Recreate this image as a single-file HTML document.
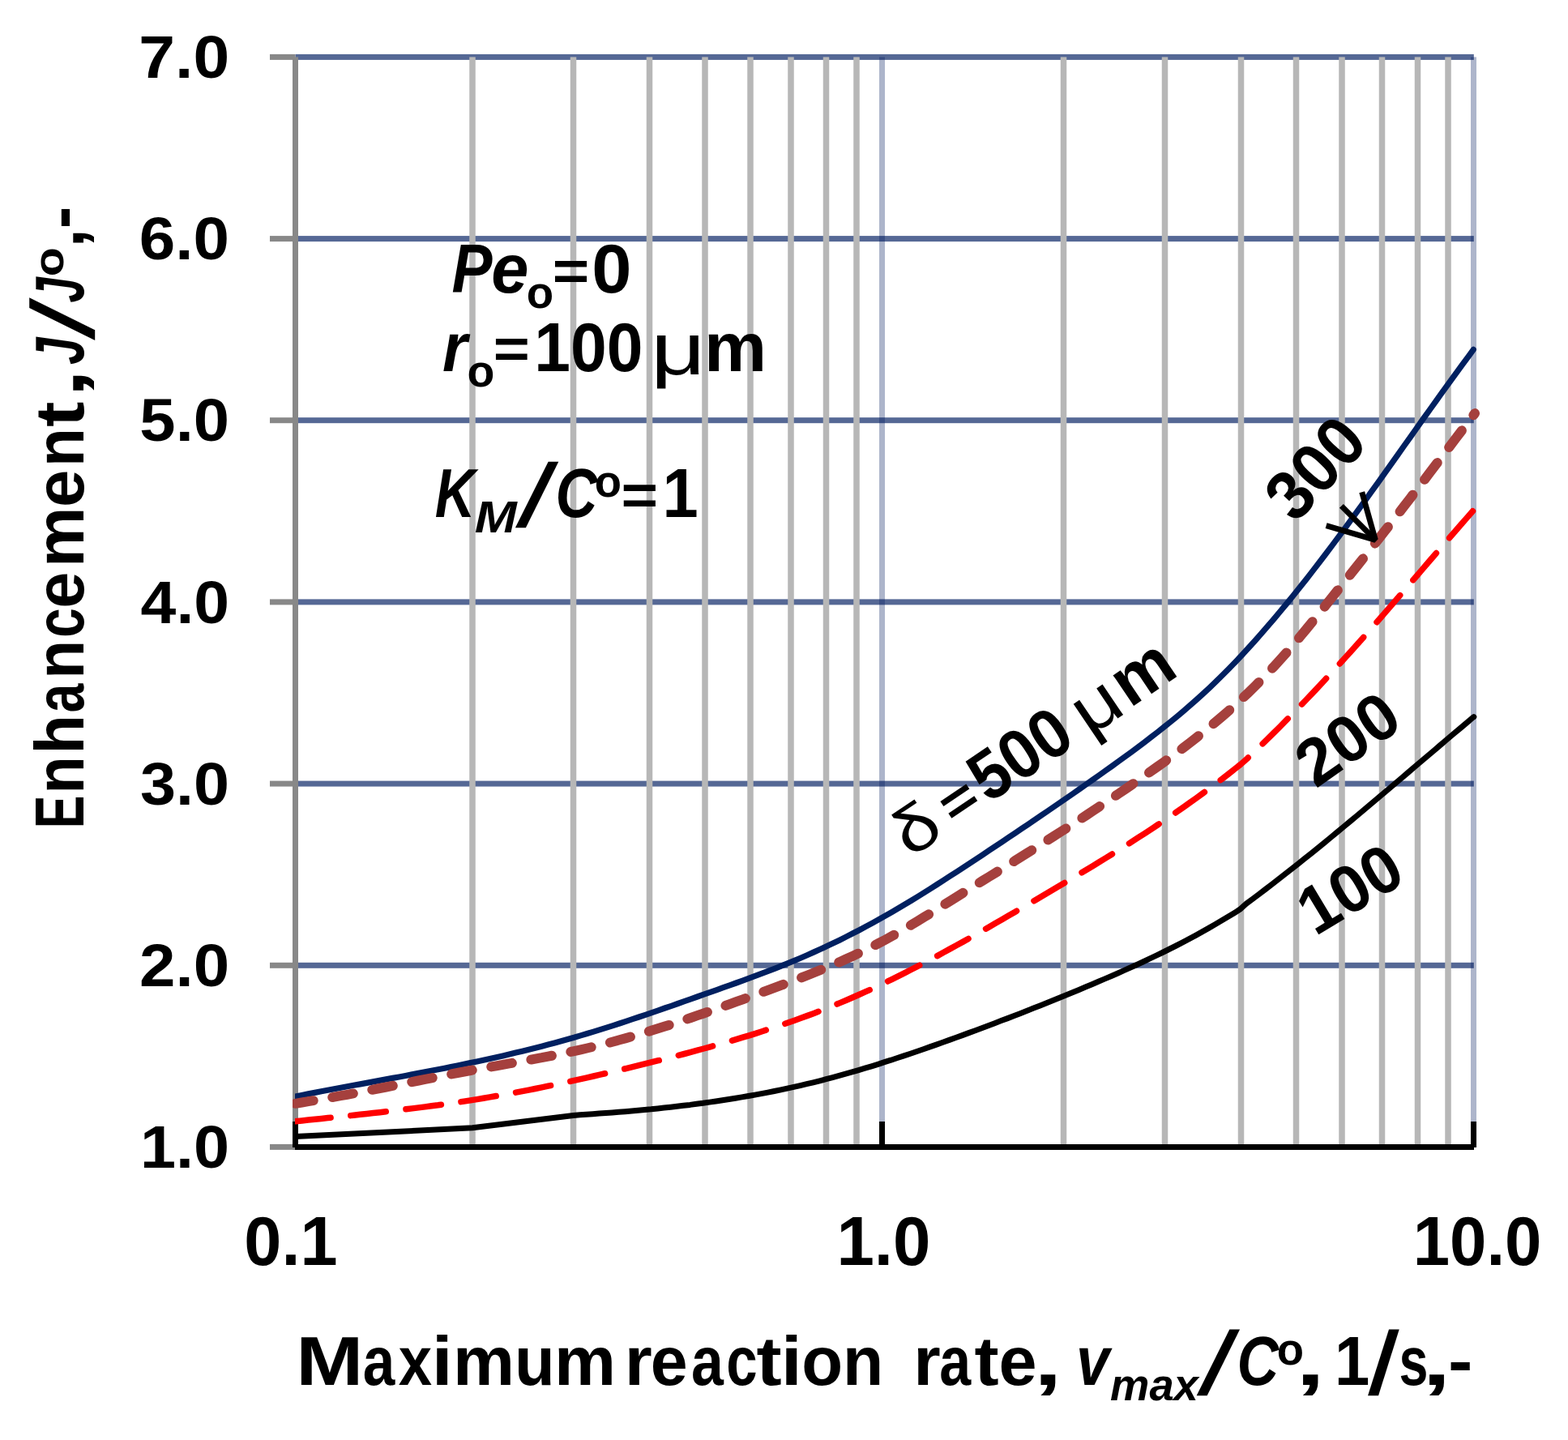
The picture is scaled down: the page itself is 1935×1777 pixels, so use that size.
<!DOCTYPE html><html><head><meta charset="utf-8"><style>html,body{margin:0;padding:0;background:#fff;}svg{display:block;}</style></head><body>
<svg xmlns="http://www.w3.org/2000/svg" width="1935" height="1777" viewBox="0 0 1935 1777">
<rect width="1935" height="1777" fill="#fff"/>
<defs><clipPath id="c1"><rect x="364" y="0" width="1600" height="1777"/></clipPath><clipPath id="c2"><rect x="361" y="0" width="1600" height="1777"/></clipPath></defs>
<rect x="364.5" y="1187.8" width="1454.3" height="7" fill="#556895"/>
<rect x="364.5" y="963.6" width="1454.3" height="7" fill="#556895"/>
<rect x="364.5" y="739.4" width="1454.3" height="7" fill="#556895"/>
<rect x="364.5" y="515.2" width="1454.3" height="7" fill="#556895"/>
<rect x="364.5" y="291.1" width="1454.3" height="7" fill="#556895"/>
<rect x="364.5" y="66.9" width="1454.3" height="7" fill="#556895"/>
<rect x="579.25" y="70.4" width="7.5" height="1341.6" fill="#b7b7b7"/>
<rect x="703.75" y="70.4" width="7.5" height="1341.6" fill="#b7b7b7"/>
<rect x="797.75" y="70.4" width="7.5" height="1341.6" fill="#b7b7b7"/>
<rect x="866.25" y="70.4" width="7.5" height="1341.6" fill="#b7b7b7"/>
<rect x="922.25" y="70.4" width="7.5" height="1341.6" fill="#b7b7b7"/>
<rect x="972.25" y="70.4" width="7.5" height="1341.6" fill="#b7b7b7"/>
<rect x="1015.75" y="70.4" width="7.5" height="1341.6" fill="#b7b7b7"/>
<rect x="1053.25" y="70.4" width="7.5" height="1341.6" fill="#b7b7b7"/>
<rect x="1308.75" y="70.4" width="7.5" height="1341.6" fill="#b7b7b7"/>
<rect x="1433.75" y="70.4" width="7.5" height="1341.6" fill="#b7b7b7"/>
<rect x="1527.75" y="70.4" width="7.5" height="1341.6" fill="#b7b7b7"/>
<rect x="1595.75" y="70.4" width="7.5" height="1341.6" fill="#b7b7b7"/>
<rect x="1652.25" y="70.4" width="7.5" height="1341.6" fill="#b7b7b7"/>
<rect x="1701.75" y="70.4" width="7.5" height="1341.6" fill="#b7b7b7"/>
<rect x="1745.75" y="70.4" width="7.5" height="1341.6" fill="#b7b7b7"/>
<rect x="1783.25" y="70.4" width="7.5" height="1341.6" fill="#b7b7b7"/>
<rect x="1085.00" y="70.4" width="7" height="1341.6" fill="#00185c" fill-opacity="0.32"/>
<rect x="1815.00" y="70.4" width="7" height="1341.6" fill="#00185c" fill-opacity="0.32"/>
<rect x="361" y="70.4" width="7" height="1348.6" fill="#888888"/>
<rect x="333" y="1411.9" width="31.5" height="7" fill="#888888"/>
<rect x="333" y="1187.8" width="31.5" height="7" fill="#888888"/>
<rect x="333" y="963.6" width="31.5" height="7" fill="#888888"/>
<rect x="333" y="739.4" width="31.5" height="7" fill="#888888"/>
<rect x="333" y="515.2" width="31.5" height="7" fill="#888888"/>
<rect x="333" y="291.1" width="31.5" height="7" fill="#888888"/>
<rect x="333" y="66.9" width="31.5" height="7" fill="#888888"/>
<rect x="364" y="1412" width="1455" height="7" fill="#000"/>
<rect x="361.0" y="1384" width="7" height="32" fill="#000"/>
<rect x="1085.0" y="1384" width="7" height="32" fill="#000"/>
<rect x="1815.0" y="1384" width="7" height="32" fill="#000"/>
<polyline clip-path="url(#c1)" points="364.5,1353.0 372.5,1351.5 380.5,1349.9 388.5,1348.4 396.5,1346.8 404.5,1345.3 412.5,1343.8 420.5,1342.3 428.5,1340.8 436.5,1339.3 444.5,1337.9 452.5,1336.4 460.5,1334.9 468.5,1333.4 476.5,1331.9 484.5,1330.4 492.5,1329.0 500.5,1327.5 508.5,1325.9 516.5,1324.4 524.5,1322.9 532.5,1321.3 540.5,1319.8 548.5,1318.2 556.5,1316.6 564.5,1315.0 572.5,1313.3 580.5,1311.6 588.5,1309.9 596.5,1308.2 604.5,1306.5 612.5,1304.7 620.5,1302.9 628.5,1301.0 636.5,1299.1 644.5,1297.2 652.5,1295.2 660.5,1293.2 668.5,1291.2 676.5,1289.1 684.5,1287.0 692.5,1284.8 700.5,1282.5 708.5,1280.3 716.5,1277.9 724.5,1275.5 732.5,1273.1 740.5,1270.6 748.5,1268.1 756.5,1265.6 764.5,1263.0 772.5,1260.3 780.5,1257.7 788.5,1255.0 796.5,1252.3 804.5,1249.6 812.5,1246.8 820.5,1244.0 828.5,1241.3 836.5,1238.5 844.5,1235.7 852.5,1232.8 860.5,1230.0 868.5,1227.2 876.5,1224.4 884.5,1221.6 892.5,1218.7 900.5,1215.9 908.5,1213.0 916.5,1210.1 924.5,1207.2 932.5,1204.2 940.5,1201.2 948.5,1198.2 956.5,1195.1 964.5,1191.9 972.5,1188.7 980.5,1185.4 988.5,1182.0 996.5,1178.5 1004.5,1174.9 1012.5,1171.3 1020.5,1167.6 1028.5,1163.8 1036.5,1159.9 1044.5,1155.9 1052.5,1151.8 1060.5,1147.7 1068.5,1143.4 1076.5,1139.1 1084.5,1134.7 1092.5,1130.2 1100.5,1125.6 1108.5,1120.9 1116.5,1116.2 1124.5,1111.4 1132.5,1106.5 1140.5,1101.5 1148.5,1096.5 1156.5,1091.4 1164.5,1086.3 1172.5,1081.1 1180.5,1075.9 1188.5,1070.7 1196.5,1065.4 1204.5,1060.2 1212.5,1054.9 1220.5,1049.6 1228.5,1044.2 1236.5,1038.9 1244.5,1033.6 1252.5,1028.2 1260.5,1022.8 1268.5,1017.4 1276.5,1012.0 1284.5,1006.6 1292.5,1001.1 1300.5,995.6 1308.5,990.1 1316.5,984.6 1324.5,979.1 1332.5,973.5 1340.5,967.9 1348.5,962.2 1356.5,956.6 1364.5,950.9 1372.5,945.2 1380.5,939.4 1388.5,933.6 1396.5,927.8 1404.5,921.8 1412.5,915.8 1420.5,909.7 1428.5,903.5 1436.5,897.2 1444.5,890.8 1452.5,884.2 1460.5,877.5 1468.5,870.6 1476.5,863.5 1484.5,856.3 1492.5,848.8 1500.5,841.2 1508.5,833.3 1516.5,825.2 1524.5,817.0 1532.5,808.5 1540.5,799.8 1548.5,791.0 1556.5,781.9 1564.5,772.7 1572.5,763.4 1580.5,753.8 1588.5,744.1 1596.5,734.3 1604.5,724.3 1612.5,714.2 1620.5,703.9 1628.5,693.5 1636.5,683.0 1644.5,672.4 1652.5,661.7 1660.5,650.8 1668.5,639.9 1676.5,628.9 1684.5,617.9 1692.5,606.7 1700.5,595.6 1708.5,584.3 1716.5,573.1 1724.5,561.8 1732.5,550.5 1740.5,539.3 1748.5,528.0 1756.5,516.7 1764.5,505.5 1772.5,494.3 1780.5,483.2 1788.5,472.1 1796.5,461.1 1804.5,450.1 1812.5,439.3 1818.3,431.4" fill="none" stroke="#002060" stroke-width="7.2" stroke-linejoin="round" stroke-linecap="round"/>
<polyline clip-path="url(#c2)" points="364.5,1361.8 372.5,1360.5 380.5,1359.2 388.5,1357.9 396.5,1356.5 404.5,1355.1 412.5,1353.7 420.5,1352.2 428.5,1350.8 436.5,1349.3 444.5,1347.7 452.5,1346.2 460.5,1344.6 468.5,1343.0 476.5,1341.5 484.5,1339.9 492.5,1338.3 500.5,1336.7 508.5,1335.1 516.5,1333.5 524.5,1331.9 532.5,1330.3 540.5,1328.7 548.5,1327.1 556.5,1325.6 564.5,1324.0 572.5,1322.5 580.5,1321.0 588.5,1319.6 596.5,1318.1 604.5,1316.7 612.5,1315.3 620.5,1313.8 628.5,1312.4 636.5,1311.0 644.5,1309.6 652.5,1308.1 660.5,1306.6 668.5,1305.2 676.5,1303.6 684.5,1302.1 692.5,1300.5 700.5,1298.8 708.5,1297.1 716.5,1295.3 724.5,1293.5 732.5,1291.6 740.5,1289.6 748.5,1287.6 756.5,1285.5 764.5,1283.3 772.5,1281.1 780.5,1278.8 788.5,1276.5 796.5,1274.1 804.5,1271.6 812.5,1269.1 820.5,1266.6 828.5,1264.0 836.5,1261.3 844.5,1258.7 852.5,1256.0 860.5,1253.2 868.5,1250.5 876.5,1247.7 884.5,1244.8 892.5,1242.0 900.5,1239.1 908.5,1236.2 916.5,1233.3 924.5,1230.4 932.5,1227.5 940.5,1224.5 948.5,1221.6 956.5,1218.7 964.5,1215.7 972.5,1212.7 980.5,1209.6 988.5,1206.6 996.5,1203.5 1004.5,1200.3 1012.5,1197.0 1020.5,1193.7 1028.5,1190.4 1036.5,1186.9 1044.5,1183.3 1052.5,1179.7 1060.5,1175.9 1068.5,1172.1 1076.5,1168.1 1084.5,1163.9 1092.5,1159.7 1100.5,1155.3 1108.5,1150.8 1116.5,1146.2 1124.5,1141.4 1132.5,1136.6 1140.5,1131.7 1148.5,1126.8 1156.5,1121.8 1164.5,1116.8 1172.5,1111.8 1180.5,1106.8 1188.5,1101.8 1196.5,1096.8 1204.5,1091.9 1212.5,1086.9 1220.5,1082.0 1228.5,1077.1 1236.5,1072.1 1244.5,1067.1 1252.5,1062.2 1260.5,1057.2 1268.5,1052.2 1276.5,1047.1 1284.5,1042.1 1292.5,1037.0 1300.5,1031.9 1308.5,1026.8 1316.5,1021.7 1324.5,1016.5 1332.5,1011.3 1340.5,1006.1 1348.5,1000.8 1356.5,995.5 1364.5,990.2 1372.5,984.8 1380.5,979.4 1388.5,974.0 1396.5,968.5 1404.5,962.9 1412.5,957.4 1420.5,951.7 1428.5,946.0 1436.5,940.3 1444.5,934.5 1452.5,928.6 1460.5,922.6 1468.5,916.5 1476.5,910.2 1484.5,903.9 1492.5,897.4 1500.5,890.7 1508.5,883.9 1516.5,876.9 1524.5,869.7 1532.5,862.3 1540.5,854.8 1548.5,847.0 1556.5,838.9 1564.5,830.6 1572.5,822.1 1580.5,813.3 1588.5,804.3 1596.5,795.0 1604.5,785.5 1612.5,775.9 1620.5,766.1 1628.5,756.2 1636.5,746.3 1644.5,736.3 1652.5,726.3 1660.5,716.3 1668.5,706.3 1676.5,696.3 1684.5,686.2 1692.5,676.1 1700.5,666.0 1708.5,655.8 1716.5,645.6 1724.5,635.3 1732.5,624.9 1740.5,614.6 1748.5,604.1 1756.5,593.7 1764.5,583.2 1772.5,572.7 1780.5,562.1 1788.5,551.6 1796.5,541.0 1804.5,530.5 1812.5,520.0 1820.0,510.1" fill="none" stroke="#a5403d" stroke-width="12" stroke-linejoin="round" stroke-linecap="round" stroke-dasharray="26 23.9" stroke-dashoffset="3.5"/>
<polyline clip-path="url(#c1)" points="364.5,1383.8 372.5,1383.0 380.5,1382.1 388.5,1381.3 396.5,1380.4 404.5,1379.6 412.5,1378.8 420.5,1377.9 428.5,1377.1 436.5,1376.2 444.5,1375.3 452.5,1374.5 460.5,1373.6 468.5,1372.7 476.5,1371.8 484.5,1370.8 492.5,1369.9 500.5,1368.9 508.5,1367.9 516.5,1366.9 524.5,1365.9 532.5,1364.8 540.5,1363.8 548.5,1362.6 556.5,1361.5 564.5,1360.3 572.5,1359.1 580.5,1357.9 588.5,1356.6 596.5,1355.3 604.5,1353.9 612.5,1352.5 620.5,1351.1 628.5,1349.6 636.5,1348.1 644.5,1346.6 652.5,1345.1 660.5,1343.5 668.5,1341.9 676.5,1340.2 684.5,1338.6 692.5,1336.9 700.5,1335.1 708.5,1333.4 716.5,1331.6 724.5,1329.8 732.5,1328.0 740.5,1326.2 748.5,1324.3 756.5,1322.4 764.5,1320.5 772.5,1318.6 780.5,1316.7 788.5,1314.7 796.5,1312.7 804.5,1310.7 812.5,1308.7 820.5,1306.7 828.5,1304.6 836.5,1302.6 844.5,1300.5 852.5,1298.4 860.5,1296.2 868.5,1294.0 876.5,1291.8 884.5,1289.6 892.5,1287.3 900.5,1285.0 908.5,1282.6 916.5,1280.2 924.5,1277.8 932.5,1275.3 940.5,1272.7 948.5,1270.1 956.5,1267.5 964.5,1264.8 972.5,1262.0 980.5,1259.2 988.5,1256.3 996.5,1253.4 1004.5,1250.4 1012.5,1247.3 1020.5,1244.1 1028.5,1240.9 1036.5,1237.6 1044.5,1234.3 1052.5,1230.8 1060.5,1227.3 1068.5,1223.7 1076.5,1220.0 1084.5,1216.3 1092.5,1212.5 1100.5,1208.6 1108.5,1204.6 1116.5,1200.6 1124.5,1196.5 1132.5,1192.4 1140.5,1188.2 1148.5,1183.9 1156.5,1179.7 1164.5,1175.3 1172.5,1170.9 1180.5,1166.5 1188.5,1162.1 1196.5,1157.6 1204.5,1153.1 1212.5,1148.5 1220.5,1143.9 1228.5,1139.3 1236.5,1134.7 1244.5,1130.1 1252.5,1125.4 1260.5,1120.8 1268.5,1116.1 1276.5,1111.4 1284.5,1106.7 1292.5,1102.0 1300.5,1097.3 1308.5,1092.6 1316.5,1087.9 1324.5,1083.1 1332.5,1078.3 1340.5,1073.5 1348.5,1068.7 1356.5,1063.8 1364.5,1058.9 1372.5,1054.0 1380.5,1049.0 1388.5,1044.0 1396.5,1038.9 1404.5,1033.7 1412.5,1028.6 1420.5,1023.3 1428.5,1018.0 1436.5,1012.6 1444.5,1007.2 1452.5,1001.7 1460.5,996.1 1468.5,990.4 1476.5,984.7 1484.5,978.9 1492.5,973.0 1500.5,967.0 1508.5,960.9 1516.5,954.7 1524.5,948.4 1531.0,943.2 1539.0,936.2 1547.0,928.6 1555.0,920.9 1563.0,913.1 1571.0,905.3 1579.0,897.3 1587.0,889.2 1595.0,881.1 1603.0,872.8 1611.0,864.5 1619.0,856.1 1627.0,847.6 1635.0,839.0 1643.0,830.3 1651.0,821.6 1659.0,812.8 1667.0,803.9 1675.0,795.0 1683.0,786.0 1691.0,776.9 1699.0,767.8 1707.0,758.6 1715.0,749.4 1723.0,740.1 1731.0,730.8 1739.0,721.5 1747.0,712.2 1755.0,702.9 1763.0,693.5 1771.0,684.2 1779.0,674.9 1787.0,665.7 1795.0,656.5 1803.0,647.3 1811.0,638.1 1818.0,630.2" fill="none" stroke="#ff0000" stroke-width="7.5" stroke-linejoin="round" stroke-linecap="round" stroke-dasharray="43.8 24.83"/>
<polyline clip-path="url(#c1)" points="364.5,1402.6 583.0,1391.8 707.5,1376.5 715.5,1375.7 723.5,1375.2 731.5,1374.7 739.5,1374.1 747.5,1373.6 755.5,1373.0 763.5,1372.3 771.5,1371.7 779.5,1371.0 787.5,1370.3 795.5,1369.5 803.5,1368.8 811.5,1367.9 819.5,1367.1 827.5,1366.2 835.5,1365.3 843.5,1364.3 851.5,1363.4 859.5,1362.3 867.5,1361.3 875.5,1360.1 883.5,1359.0 891.5,1357.8 899.5,1356.5 907.5,1355.2 915.5,1353.9 923.5,1352.5 931.5,1351.1 939.5,1349.6 947.5,1348.1 955.5,1346.5 963.5,1344.8 971.5,1343.1 979.5,1341.4 987.5,1339.6 995.5,1337.7 1003.5,1335.8 1011.5,1333.8 1019.5,1331.7 1027.5,1329.6 1035.5,1327.4 1043.5,1325.2 1051.5,1322.9 1059.5,1320.6 1067.5,1318.2 1075.5,1315.8 1083.5,1313.3 1091.5,1310.7 1099.5,1308.2 1107.5,1305.5 1115.5,1302.9 1123.5,1300.2 1131.5,1297.5 1139.5,1294.7 1147.5,1291.9 1155.5,1289.1 1163.5,1286.3 1171.5,1283.4 1179.5,1280.5 1187.5,1277.6 1195.5,1274.6 1203.5,1271.7 1211.5,1268.7 1219.5,1265.7 1227.5,1262.7 1235.5,1259.6 1243.5,1256.6 1251.5,1253.5 1259.5,1250.4 1267.5,1247.2 1275.5,1244.1 1283.5,1240.9 1291.5,1237.7 1299.5,1234.5 1307.5,1231.2 1315.5,1228.0 1323.5,1224.7 1331.5,1221.4 1339.5,1218.1 1347.5,1214.7 1355.5,1211.3 1363.5,1207.9 1371.5,1204.5 1379.5,1201.0 1387.5,1197.4 1395.5,1193.8 1403.5,1190.2 1411.5,1186.5 1419.5,1182.7 1427.5,1178.9 1435.5,1175.0 1443.5,1171.0 1451.5,1167.0 1459.5,1162.8 1467.5,1158.6 1475.5,1154.3 1483.5,1149.9 1491.5,1145.4 1499.5,1140.8 1507.5,1136.1 1515.5,1131.3 1523.5,1126.4 1530.0,1122.3 1538.0,1115.1 1546.0,1109.2 1554.0,1103.2 1562.0,1097.1 1570.0,1091.0 1578.0,1084.8 1586.0,1078.6 1594.0,1072.3 1602.0,1066.0 1610.0,1059.6 1618.0,1053.2 1626.0,1046.7 1634.0,1040.2 1642.0,1033.6 1650.0,1027.0 1658.0,1020.4 1666.0,1013.7 1674.0,1007.1 1682.0,1000.4 1690.0,993.6 1698.0,986.9 1706.0,980.1 1714.0,973.4 1722.0,966.6 1730.0,959.8 1738.0,953.0 1746.0,946.2 1754.0,939.4 1762.0,932.6 1770.0,925.8 1778.0,919.0 1786.0,912.2 1794.0,905.4 1802.0,898.7 1810.0,892.0 1818.0,885.2 1818.8,884.6" fill="none" stroke="#000" stroke-width="7" stroke-linejoin="round" stroke-linecap="round"/>
<g stroke="#000" stroke-width="7" fill="none" stroke-linejoin="bevel" stroke-linecap="butt"><line x1="1655.4" y1="624.4" x2="1697.3" y2="666.3"/><polyline points="1636.6,648.7 1697.3,666.3 1680.7,607.2"/></g>
<g fill="#000">
<text x="172.91" y="1441.14" style="font-family:'Liberation Sans',sans-serif;font-weight:bold;font-size:74.72px" textLength="110.14" lengthAdjust="spacingAndGlyphs">1.0</text>
<text x="172.03" y="1216.97" style="font-family:'Liberation Sans',sans-serif;font-weight:bold;font-size:74.72px" textLength="111.05" lengthAdjust="spacingAndGlyphs">2.0</text>
<text x="172.98" y="992.69" style="font-family:'Liberation Sans',sans-serif;font-weight:bold;font-size:74.56px" textLength="110.06" lengthAdjust="spacingAndGlyphs">3.0</text>
<text x="173.61" y="768.63" style="font-family:'Liberation Sans',sans-serif;font-weight:bold;font-size:74.72px" textLength="109.42" lengthAdjust="spacingAndGlyphs">4.0</text>
<text x="172.35" y="544.46" style="font-family:'Liberation Sans',sans-serif;font-weight:bold;font-size:74.72px" textLength="110.72" lengthAdjust="spacingAndGlyphs">5.0</text>
<text x="171.87" y="320.29" style="font-family:'Liberation Sans',sans-serif;font-weight:bold;font-size:74.72px" textLength="111.21" lengthAdjust="spacingAndGlyphs">6.0</text>
<text x="171.35" y="96.12" style="font-family:'Liberation Sans',sans-serif;font-weight:bold;font-size:74.72px" textLength="111.75" lengthAdjust="spacingAndGlyphs">7.0</text>
<text x="301.32" y="1561.16" style="font-family:'Liberation Sans',sans-serif;font-weight:bold;font-size:86.16px" textLength="115.18" lengthAdjust="spacingAndGlyphs">0.1</text>
<text x="1032.44" y="1561.16" style="font-family:'Liberation Sans',sans-serif;font-weight:bold;font-size:86.16px" textLength="115.98" lengthAdjust="spacingAndGlyphs">1.0</text>
<text x="1743.76" y="1561.06" style="font-family:'Liberation Sans',sans-serif;font-weight:bold;font-size:86.16px" textLength="158.68" lengthAdjust="spacingAndGlyphs">10.0</text>
<text x="365.33" y="1708.60" style="font-family:'Liberation Sans',sans-serif;font-weight:bold;font-size:86.00px" textLength="83.04" lengthAdjust="spacingAndGlyphs">M</text>
<text x="447.82" y="1708.60" style="font-family:'Liberation Sans',sans-serif;font-weight:bold;font-size:86.00px" textLength="39.53" lengthAdjust="spacingAndGlyphs">a</text>
<text x="491.79" y="1708.60" style="font-family:'Liberation Sans',sans-serif;font-weight:bold;font-size:86.00px" textLength="41.35" lengthAdjust="spacingAndGlyphs">x</text>
<text x="532.89" y="1708.60" style="font-family:'Liberation Sans',sans-serif;font-weight:bold;font-size:86.00px" textLength="25.92" lengthAdjust="spacingAndGlyphs">i</text>
<text x="559.06" y="1708.60" style="font-family:'Liberation Sans',sans-serif;font-weight:bold;font-size:86.00px" textLength="76.04" lengthAdjust="spacingAndGlyphs">m</text>
<text x="635.05" y="1708.60" style="font-family:'Liberation Sans',sans-serif;font-weight:bold;font-size:86.00px" textLength="49.71" lengthAdjust="spacingAndGlyphs">u</text>
<text x="684.06" y="1708.60" style="font-family:'Liberation Sans',sans-serif;font-weight:bold;font-size:86.00px" textLength="76.04" lengthAdjust="spacingAndGlyphs">m</text>
<text x="770.74" y="1708.60" style="font-family:'Liberation Sans',sans-serif;font-weight:bold;font-size:86.00px" textLength="33.98" lengthAdjust="spacingAndGlyphs">r</text>
<text x="802.67" y="1708.60" style="font-family:'Liberation Sans',sans-serif;font-weight:bold;font-size:86.00px" textLength="45.95" lengthAdjust="spacingAndGlyphs">e</text>
<text x="853.00" y="1708.60" style="font-family:'Liberation Sans',sans-serif;font-weight:bold;font-size:86.00px" textLength="39.84" lengthAdjust="spacingAndGlyphs">a</text>
<text x="896.20" y="1708.60" style="font-family:'Liberation Sans',sans-serif;font-weight:bold;font-size:86.00px" textLength="38.42" lengthAdjust="spacingAndGlyphs">c</text>
<text x="933.56" y="1708.60" style="font-family:'Liberation Sans',sans-serif;font-weight:bold;font-size:86.00px" textLength="31.19" lengthAdjust="spacingAndGlyphs">t</text>
<text x="963.84" y="1708.60" style="font-family:'Liberation Sans',sans-serif;font-weight:bold;font-size:86.00px" textLength="26.12" lengthAdjust="spacingAndGlyphs">i</text>
<text x="989.34" y="1708.60" style="font-family:'Liberation Sans',sans-serif;font-weight:bold;font-size:86.00px" textLength="50.91" lengthAdjust="spacingAndGlyphs">o</text>
<text x="1039.88" y="1708.60" style="font-family:'Liberation Sans',sans-serif;font-weight:bold;font-size:86.00px" textLength="50.22" lengthAdjust="spacingAndGlyphs">n</text>
<text x="1127.13" y="1708.60" style="font-family:'Liberation Sans',sans-serif;font-weight:bold;font-size:86.00px" textLength="33.47" lengthAdjust="spacingAndGlyphs">r</text>
<text x="1159.25" y="1708.60" style="font-family:'Liberation Sans',sans-serif;font-weight:bold;font-size:86.00px" textLength="38.91" lengthAdjust="spacingAndGlyphs">a</text>
<text x="1202.60" y="1708.60" style="font-family:'Liberation Sans',sans-serif;font-weight:bold;font-size:86.00px" textLength="30.11" lengthAdjust="spacingAndGlyphs">t</text>
<text x="1232.49" y="1708.60" style="font-family:'Liberation Sans',sans-serif;font-weight:bold;font-size:86.00px" textLength="47.10" lengthAdjust="spacingAndGlyphs">e</text>
<text x="1275.76" y="1708.60" style="font-family:'Liberation Sans',sans-serif;font-weight:bold;font-size:86.00px" textLength="34.96" lengthAdjust="spacingAndGlyphs">,</text>
<text x="1327.91" y="1708.60" style="font-family:'Liberation Sans',sans-serif;font-weight:bold;font-style:italic;font-size:86.00px" textLength="41.32" lengthAdjust="spacingAndGlyphs">v</text>
<text x="1370.07" y="1727.50" style="font-family:'Liberation Sans',sans-serif;font-weight:bold;font-style:italic;font-size:56.00px" textLength="108.80" lengthAdjust="spacingAndGlyphs">max</text>
<text x="1526.51" y="1709.16" style="font-family:'Liberation Sans',sans-serif;font-weight:bold;font-style:italic;font-size:86.16px" textLength="51.55" lengthAdjust="spacingAndGlyphs">C</text>
<text x="1575.87" y="1684.15" style="font-family:'Liberation Sans',sans-serif;font-weight:bold;font-size:56.04px" textLength="33.25" lengthAdjust="spacingAndGlyphs">o</text>
<text x="1598.98" y="1708.60" style="font-family:'Liberation Sans',sans-serif;font-weight:bold;font-size:86.00px" textLength="36.12" lengthAdjust="spacingAndGlyphs">,</text>
<text x="1646.90" y="1708.60" style="font-family:'Liberation Sans',sans-serif;font-weight:bold;font-size:86.00px" textLength="43.27" lengthAdjust="spacingAndGlyphs">1</text>
<text x="1726.43" y="1708.60" style="font-family:'Liberation Sans',sans-serif;font-weight:bold;font-size:86.00px" textLength="35.92" lengthAdjust="spacingAndGlyphs">s</text>
<text x="1755.31" y="1708.60" style="font-family:'Liberation Sans',sans-serif;font-weight:bold;font-size:86.00px" textLength="35.15" lengthAdjust="spacingAndGlyphs">,</text>
<text x="1787.13" y="1707.89" style="font-family:'Liberation Sans',sans-serif;font-weight:bold;font-size:83.10px" textLength="30.43" lengthAdjust="spacingAndGlyphs">-</text>
<text x="557.38" y="361.00" style="font-family:'Liberation Sans',sans-serif;font-weight:bold;font-style:italic;font-size:86.00px" textLength="50.01" lengthAdjust="spacingAndGlyphs">P</text>
<text x="606.15" y="361.00" style="font-family:'Liberation Sans',sans-serif;font-weight:bold;font-style:italic;font-size:86.00px" textLength="46.16" lengthAdjust="spacingAndGlyphs">e</text>
<text x="649.77" y="379.96" style="font-family:'Liberation Sans',sans-serif;font-weight:bold;font-size:55.12px" textLength="33.37" lengthAdjust="spacingAndGlyphs">o</text>
<text x="681.66" y="357.85" style="font-family:'Liberation Sans',sans-serif;font-weight:bold;font-size:69.33px" textLength="45.53" lengthAdjust="spacingAndGlyphs">=</text>
<text x="730.20" y="361.00" style="font-family:'Liberation Sans',sans-serif;font-weight:bold;font-size:86.00px" textLength="49.23" lengthAdjust="spacingAndGlyphs">0</text>
<text x="545.95" y="458.30" style="font-family:'Liberation Sans',sans-serif;font-weight:bold;font-style:italic;font-size:86.00px" textLength="30.76" lengthAdjust="spacingAndGlyphs">r</text>
<text x="576.54" y="477.05" style="font-family:'Liberation Sans',sans-serif;font-weight:bold;font-size:55.85px" textLength="33.83" lengthAdjust="spacingAndGlyphs">o</text>
<text x="608.80" y="454.41" style="font-family:'Liberation Sans',sans-serif;font-weight:bold;font-size:69.06px" textLength="45.07" lengthAdjust="spacingAndGlyphs">=</text>
<text x="659.34" y="458.30" style="font-family:'Liberation Sans',sans-serif;font-weight:bold;font-size:86.00px" textLength="134.06" lengthAdjust="spacingAndGlyphs">100</text>
<text x="803.08" y="461.68" style="font-family:'Liberation Sans',sans-serif;font-weight:normal;font-size:90.25px" textLength="67.73" lengthAdjust="spacingAndGlyphs">μ</text>
<text x="868.98" y="458.30" style="font-family:'Liberation Sans',sans-serif;font-weight:bold;font-size:86.00px" textLength="77.09" lengthAdjust="spacingAndGlyphs">m</text>
<text x="536.79" y="637.60" style="font-family:'Liberation Sans',sans-serif;font-weight:bold;font-style:italic;font-size:86.00px" textLength="49.74" lengthAdjust="spacingAndGlyphs">K</text>
<text x="585.70" y="656.60" style="font-family:'Liberation Sans',sans-serif;font-weight:bold;font-style:italic;font-size:56.11px" textLength="52.00" lengthAdjust="spacingAndGlyphs">M</text>
<text x="685.40" y="638.16" style="font-family:'Liberation Sans',sans-serif;font-weight:bold;font-style:italic;font-size:86.16px" textLength="51.76" lengthAdjust="spacingAndGlyphs">C</text>
<text x="733.87" y="612.86" style="font-family:'Liberation Sans',sans-serif;font-weight:bold;font-size:55.12px" textLength="33.25" lengthAdjust="spacingAndGlyphs">o</text>
<text x="766.56" y="634.76" style="font-family:'Liberation Sans',sans-serif;font-weight:bold;font-size:70.12px" textLength="45.65" lengthAdjust="spacingAndGlyphs">=</text>
<text x="817.39" y="637.60" style="font-family:'Liberation Sans',sans-serif;font-weight:bold;font-size:86.00px" textLength="44.22" lengthAdjust="spacingAndGlyphs">1</text>
</g>
<g fill="#000" transform="rotate(-90)">
<text x="-1022.28" y="103.20" style="font-family:'Liberation Sans',sans-serif;font-weight:bold;font-size:86.00px" textLength="40.66" lengthAdjust="spacingAndGlyphs">E</text>
<text x="-979.50" y="103.20" style="font-family:'Liberation Sans',sans-serif;font-weight:bold;font-size:86.00px" textLength="46.30" lengthAdjust="spacingAndGlyphs">n</text>
<text x="-930.42" y="103.20" style="font-family:'Liberation Sans',sans-serif;font-weight:bold;font-size:86.00px" textLength="48.33" lengthAdjust="spacingAndGlyphs">h</text>
<text x="-879.48" y="103.20" style="font-family:'Liberation Sans',sans-serif;font-weight:bold;font-size:86.00px" textLength="35.78" lengthAdjust="spacingAndGlyphs">a</text>
<text x="-837.86" y="103.20" style="font-family:'Liberation Sans',sans-serif;font-weight:bold;font-size:86.00px" textLength="47.81" lengthAdjust="spacingAndGlyphs">n</text>
<text x="-786.85" y="103.20" style="font-family:'Liberation Sans',sans-serif;font-weight:bold;font-size:86.00px" textLength="36.37" lengthAdjust="spacingAndGlyphs">c</text>
<text x="-750.75" y="103.20" style="font-family:'Liberation Sans',sans-serif;font-weight:bold;font-size:86.00px" textLength="44.92" lengthAdjust="spacingAndGlyphs">e</text>
<text x="-700.02" y="103.20" style="font-family:'Liberation Sans',sans-serif;font-weight:bold;font-size:86.00px" textLength="74.52" lengthAdjust="spacingAndGlyphs">m</text>
<text x="-626.05" y="103.20" style="font-family:'Liberation Sans',sans-serif;font-weight:bold;font-size:86.00px" textLength="46.30" lengthAdjust="spacingAndGlyphs">e</text>
<text x="-575.96" y="103.20" style="font-family:'Liberation Sans',sans-serif;font-weight:bold;font-size:86.00px" textLength="47.81" lengthAdjust="spacingAndGlyphs">n</text>
<text x="-527.06" y="103.20" style="font-family:'Liberation Sans',sans-serif;font-weight:bold;font-size:86.00px" textLength="31.51" lengthAdjust="spacingAndGlyphs">t</text>
<text x="-490.43" y="103.20" style="font-family:'Liberation Sans',sans-serif;font-weight:bold;font-size:86.00px" textLength="35.34" lengthAdjust="spacingAndGlyphs">,</text>
<text x="-450.03" y="103.20" style="font-family:'Liberation Sans',sans-serif;font-weight:bold;font-style:italic;font-size:86.00px" textLength="33.41" lengthAdjust="spacingAndGlyphs">J</text>
<text x="-373.49" y="103.20" style="font-family:'Liberation Sans',sans-serif;font-weight:bold;font-style:italic;font-size:86.00px" textLength="31.23" lengthAdjust="spacingAndGlyphs">J</text>
<text x="-341.31" y="77.90" style="font-family:'Liberation Sans',sans-serif;font-weight:bold;font-size:51.29px" textLength="36.12" lengthAdjust="spacingAndGlyphs">o</text>
<text x="-305.33" y="103.20" style="font-family:'Liberation Sans',sans-serif;font-weight:bold;font-size:86.00px" textLength="50.65" lengthAdjust="spacingAndGlyphs">,-</text>
</g>
<g fill="#000" transform="rotate(-34)">
<text x="339.00" y="1506.72" style="font-family:'Liberation Sans',sans-serif;font-weight:normal;font-size:79.66px" textLength="53.05" lengthAdjust="spacingAndGlyphs">δ</text>
<text x="405.81" y="1503.00" style="font-family:'Liberation Sans',sans-serif;font-weight:bold;font-size:66.15px" textLength="44.84" lengthAdjust="spacingAndGlyphs">=</text>
<text x="456.55" y="1504.50" style="font-family:'Liberation Sans',sans-serif;font-weight:bold;font-size:86.00px" textLength="132.71" lengthAdjust="spacingAndGlyphs">500</text>
<text x="605.77" y="1506.33" style="font-family:'Liberation Sans',sans-serif;font-weight:normal;font-size:85.81px" textLength="57.54" lengthAdjust="spacingAndGlyphs">μ</text>
<text x="667.11" y="1504.50" style="font-family:'Liberation Sans',sans-serif;font-weight:bold;font-size:86.00px" textLength="75.34" lengthAdjust="spacingAndGlyphs">m</text>
</g>
<g fill="#000" transform="rotate(-47)">
<text x="616.94" y="1610.53" style="font-family:'Liberation Sans',sans-serif;font-weight:bold;font-size:85.98px" textLength="135.18" lengthAdjust="spacingAndGlyphs">300</text>
</g>
<g fill="#000" transform="rotate(-35)">
<text x="771.70" y="1728.70" style="font-family:'Liberation Sans',sans-serif;font-weight:bold;font-size:81.50px" textLength="134.92" lengthAdjust="spacingAndGlyphs">200</text>
</g>
<g fill="#000" transform="rotate(-31)">
<text x="795.95" y="1826.69" style="font-family:'Liberation Sans',sans-serif;font-weight:bold;font-size:83.05px" textLength="133.84" lengthAdjust="spacingAndGlyphs">100</text>
</g>
<g transform="translate(1476.20,1720.11) skewX(-17.09)"><text x="0" y="0" style="font-family:'Liberation Sans',sans-serif;font-weight:bold;font-size:109.58px">/</text></g>
<g transform="translate(1687.21,1720.11) skewX(-7.26)"><text x="0" y="0" style="font-family:'Liberation Sans',sans-serif;font-weight:bold;font-size:109.58px">/</text></g>
<g transform="translate(635.51,649.11) skewX(-17.14)"><text x="0" y="0" style="font-family:'Liberation Sans',sans-serif;font-weight:bold;font-size:109.45px">/</text></g>
<g transform="rotate(-90)"><g transform="translate(-420.40,115.02) skewX(-16.96)"><text x="0" y="0" style="font-family:'Liberation Sans',sans-serif;font-weight:bold;font-size:108.78px">/</text></g></g>
</svg></body></html>
